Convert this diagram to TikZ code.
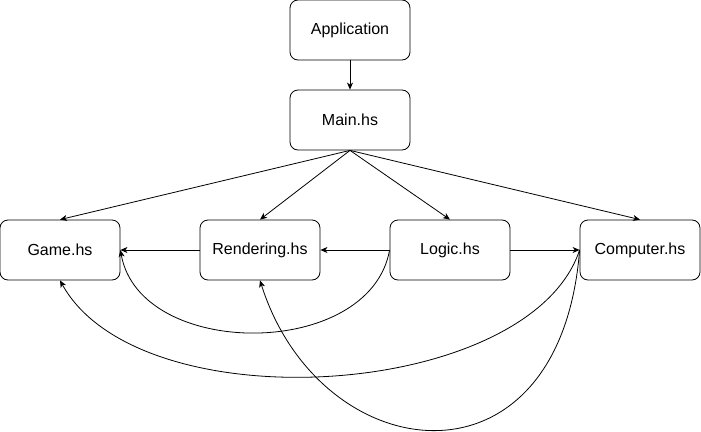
\documentclass[tikz,border=0pt]{standalone}
\usepackage{fontspec}
\setmainfont{Liberation Sans}
\usepackage{tikz}
\usetikzlibrary{positioning}
\usetikzlibrary{arrows.meta}
\tikzset{
modbox/.style={draw, line width=0.8pt, rounded corners=8pt, minimum width=120pt, minimum height=60pt, inner sep=0pt, font=\fontsize{16}{19}\selectfont},
dep/.style={line width=0.8pt, -{Stealth[length=7pt,width=6pt,inset=2pt]}}}

\begin{document}
\begin{tikzpicture}[x=1pt,y=1pt,yscale=-1,xscale=1]
\useasboundingbox (0,0) rectangle (701,431);
% Nodes
\node [modbox] (app) at (350,30) {Application};
\node [modbox] (main) at (350,120) {Main.hs};
\node [modbox] (game) at (60,250) {Game.hs};
\node [modbox] (render) at (260,250) {Rendering.hs};
\node [modbox] (logic) at (450,250) {Logic.hs};
\node [modbox] (comp) at (640,250) {Computer.hs};

% Straight Lines
\draw [dep] (app.south) -- (main.north);
\draw [dep] (main.south) -- (game.north);
\draw [dep] (main.south) -- (render.north);
\draw [dep] (main.south) -- (logic.north);
\draw [dep] (main.south) -- (comp.north);
\draw [dep] (render.west) -- (game.east);
\draw [dep] (logic.west) -- (render.east);
\draw [dep] (logic.east) -- (comp.west);

% Curves
\draw [dep] (logic.west) .. controls (370,360) and (140,360) .. (game.east);
\draw [dep] (comp.west) .. controls (530,400) and (140,425) .. (game.south);
\draw [dep] (comp.west) .. controls (560,500) and (320,470) .. (render.south);
\end{tikzpicture}
\end{document}
